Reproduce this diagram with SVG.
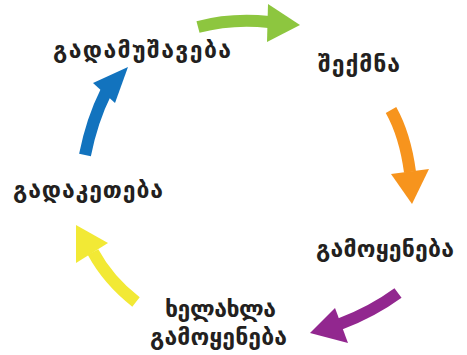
<svg xmlns="http://www.w3.org/2000/svg" width="467" height="355" viewBox="0 0 467 355">
<style>
.lbl{font-family:"DejaVu Sans","Noto Sans",sans-serif;font-weight:bold;font-size:23px;fill:#231f20}
.shaft{fill:none;stroke-width:12;stroke-linecap:butt}
</style>
<rect width="467" height="355" fill="#ffffff"/>
<g id="connectors">
<g id="arrow-green">
<path class="shaft" stroke="#8dc63f" d="M198,27 Q232,18 269,22"/>
<polygon fill="#8dc63f" points="268,4 300,25 267,42"/>
</g>
<g id="arrow-orange">
<path class="shaft" stroke="#f7941d" d="M391,110 Q405,135 410,172"/>
<polygon fill="#f7941d" points="391,174 429,169 412,204"/>
</g>
<g id="arrow-purple">
<path class="shaft" stroke="#92278f" d="M398,293 Q372,312 340,324"/>
<polygon fill="#92278f" points="335,308 310,333 348,343"/>
</g>
<g id="arrow-yellow">
<path class="shaft" stroke="#f2e935" d="M136,302 Q108,280 93,252"/>
<polygon fill="#f2e935" points="76,225 108,243 76,263"/>
</g>
<g id="arrow-blue">
<path class="shaft" stroke="#1273be" d="M85,155 Q92,120 106,92"/>
<polygon fill="#1273be" points="128,67 93,83 115,103"/>
</g>
</g>
<g id="node-recycle"><text class="lbl" x="53" y="58" textLength="178" lengthAdjust="spacing">გადამუშავება</text></g>
<g id="node-create"><text class="lbl" x="318" y="72" textLength="82" lengthAdjust="spacing">შექმნა</text></g>
<g id="node-use"><text class="lbl" x="316" y="257" textLength="138" lengthAdjust="spacing">გამოყენება</text></g>
<g id="node-reuse"><text class="lbl" x="165" y="317" textLength="111" lengthAdjust="spacing">ხელახლა</text><text class="lbl" x="150" y="345" textLength="137" lengthAdjust="spacing">გამოყენება</text></g>
<g id="node-redo"><text class="lbl" x="13" y="198" textLength="150" lengthAdjust="spacing">გადაკეთება</text></g>
</svg>
